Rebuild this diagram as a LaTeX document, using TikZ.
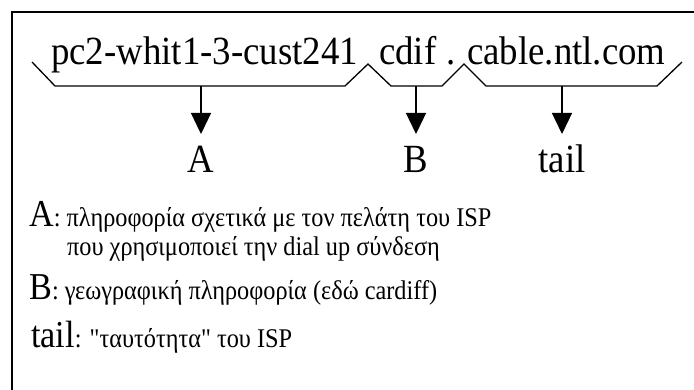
\documentclass[tikz,border=0pt]{standalone}
\usepackage{fontspec}
\newfontfamily\tnr[FakeStretch=0.92]{Liberation Serif}
\newfontfamily\tnrleg[FakeStretch=0.9]{Liberation Serif}
\usetikzlibrary{arrows.meta}
\begin{document}
\begin{tikzpicture}[x=1pt,y=-1pt,
  bigtxt/.style={font=\tnr\fontsize{40}{44}\selectfont, inner sep=0pt},
  legtxt/.style={font=\tnrleg\fontsize{27}{30}\selectfont, inner sep=0pt, anchor=base west},
  legbig/.style={font=\tnrleg\fontsize{38}{42}\selectfont},
  brace/.style={line width=1.3pt, line join=miter},
  arr/.style={line width=1.3pt, -{Triangle[length=21pt,width=20pt]}},
  frame/.style={line width=2pt}]
\useasboundingbox (0,0) rectangle (694,390);
\clip (0,0) rectangle (694,390);
\draw[frame] (12,400) -- (12,12) -- (704,12);
% host name parts
\node[bigtxt, anchor=base west] (s1) at (51,65) {pc2-whit1-3-cust241};
\node[bigtxt, anchor=base west] (s2) at (379,65) {cdif};
\node[bigtxt, anchor=base west] (sd) at (446,65) {.};
\node[bigtxt, anchor=base west] (s3) at (467,65) {cable.ntl.com};
% braces
\draw[brace] (32,62) -- (55,86) -- (345,86) -- (368,64) -- (391,86) -- (442,86)
  -- (464,64) -- (486,86) -- (657,86) -- (682,62);
\coordinate (b1) at (201,86);
\coordinate (b2) at (416,86);
\coordinate (b3) at (562,86);
\coordinate (t1) at (201,134);
\coordinate (t2) at (416,134);
\coordinate (t3) at (562,134);
\draw[arr] (b1) -- (t1);
\draw[arr] (b2) -- (t2);
\draw[arr] (b3) -- (t3);
% labels
\node[bigtxt, anchor=base] (lA) at (201,173) {A};
\node[bigtxt, anchor=base] (lB) at (416,173) {B};
\node[bigtxt, anchor=base] (lT) at (562,173) {tail};
% legend
\node[legtxt] (gA) at (29,227) {{\tnrleg\fontsize{38}{42}\selectfont A}: πληροφορία σχετικά με τον πελάτη του ISP};
\node[legtxt] (gA2) at (67,256) {που χρησιμοποιεί την dial up σύνδεση};
\node[legtxt] (gB) at (29,300) {{\tnrleg\fontsize{38}{42}\selectfont B}: γεωγραφική πληροφορία (εδώ cardiff)};
\node[legtxt] (gT) at (31,347) {{\tnrleg\fontsize{38}{42}\selectfont tail}: "ταυτότητα" του ISP};
\end{tikzpicture}
\end{document}
